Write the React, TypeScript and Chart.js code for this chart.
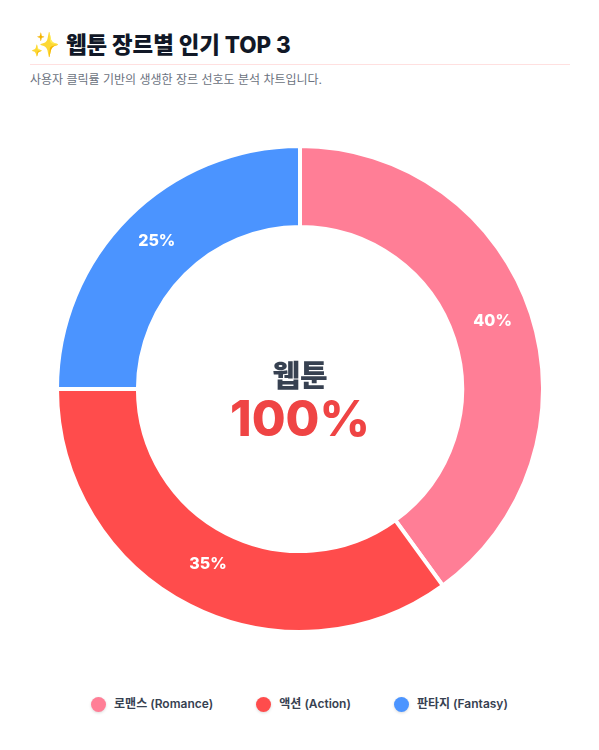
import { useEffect, useRef } from "react";
import { Chart, registerables } from "chart.js";

Chart.register(...registerables);

const FONT = "Inter, 'Noto Sans CJK KR', sans-serif";

const genres = ["로맨스 (Romance)", "액션 (Action)", "판타지 (Fantasy)"];
const shares = [40, 35, 25];
const colors = ["#FF7E96", "#FF4C4C", "#4B94FF"];

const percentLabels = {
  id: "percentLabels",
  afterDatasetsDraw(chart: Chart) {
    const { ctx } = chart;
    const meta = chart.getDatasetMeta(0);
    ctx.save();
    ctx.font = `800 16px ${FONT}`;
    ctx.fillStyle = "#ffffff";
    ctx.textAlign = "center";
    ctx.textBaseline = "middle";
    meta.data.forEach((arc, i) => {
      const p = arc.tooltipPosition(false);
      // sits a little above the ring's middle
      ctx.fillText(`${shares[i]}%`, p.x, p.y - 5);
    });
    ctx.restore();
  },
};

export default function App() {
  const ref = useRef<HTMLCanvasElement | null>(null);

  useEffect(() => {
    if (!ref.current) return;
    const chart = new Chart(ref.current, {
      type: "doughnut",
      data: {
        labels: genres,
        datasets: [
          {
            data: shares,
            backgroundColor: colors,
            borderColor: "#ffffff",
            borderWidth: 4,
            hoverOffset: 0,
          },
        ],
      },
      options: {
        responsive: false,
        animation: false,
        cutout: "66.7%",
        layout: { padding: 0 },
        plugins: { legend: { display: false }, tooltip: { enabled: false } },
      },
      plugins: [percentLabels],
    });
    return () => chart.destroy();
  }, []);

  return (
    <div style={{ position: "absolute", left: 0, top: 0, width: 599, height: 750, background: "#fff", fontFamily: FONT }}>
      <div style={{ position: "absolute", left: 30, top: 28, width: 540, height: 36, borderBottom: "1px solid #FFE0E0", fontSize: 22.4, fontWeight: 800, lineHeight: "34px", color: "#111827", whiteSpace: "nowrap" }}>
        <span style={{ fontSize: 24, marginRight: 1 }}>✨</span> 웹툰 장르별 인기 TOP 3
      </div>
      <div style={{ position: "absolute", left: 30, top: 71, fontSize: 12, lineHeight: "18px", color: "#6B7280", whiteSpace: "nowrap" }}>
        사용자 클릭률 기반의 생생한 장르 선호도 분석 차트입니다.
      </div>
      <canvas ref={ref} width={490} height={490} style={{ position: "absolute", left: 55, top: 144 }} />
      <div style={{ position: "absolute", left: 150, width: 300, top: 357, textAlign: "center", fontSize: 30, fontWeight: 800, lineHeight: "36px", color: "#374151" }}>
        웹툰
      </div>
      <div style={{ position: "absolute", left: 150, width: 300, top: 389, textAlign: "center", fontSize: 49, fontWeight: 800, lineHeight: "60px", color: "#EF4444" }}>
        100%
      </div>
      <div style={{ position: "absolute", left: 0, width: 599, top: 695, display: "flex", justifyContent: "center", gap: 43 }}>
        {genres.map((g, i) => (
          <span key={g} style={{ display: "flex", alignItems: "center", gap: 8, fontSize: 12, fontWeight: 600, lineHeight: "18px", color: "#374151" }}>
            <span style={{ width: 15, height: 15, borderRadius: "50%", background: colors[i], boxShadow: "0 1px 3px rgba(0,0,0,0.15)" }} />
            {g}
          </span>
        ))}
      </div>
    </div>
  );
}
